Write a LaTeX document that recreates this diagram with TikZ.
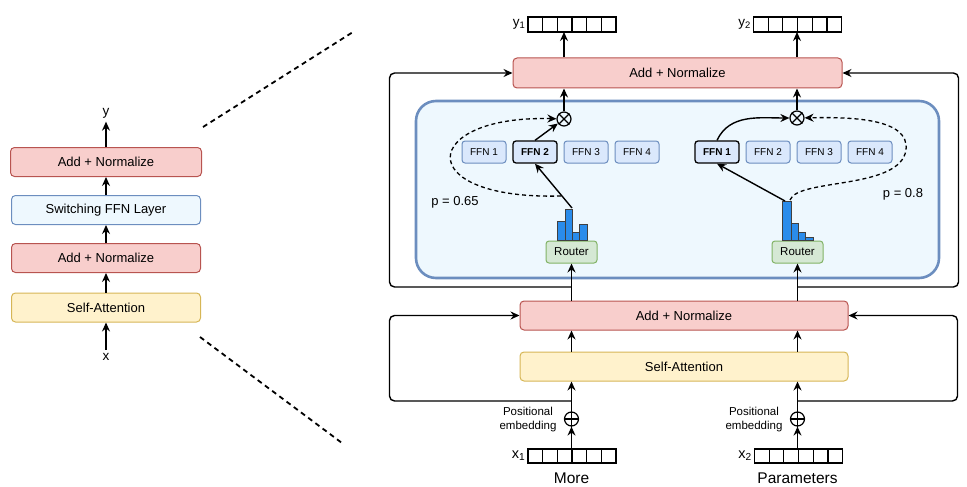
\documentclass[tikz,border=0pt]{standalone}
\usepackage{fontspec}
\setmainfont{Liberation Sans}
\usetikzlibrary{arrows.meta}
\definecolor{anfill}{HTML}{F8CECC}
\definecolor{andraw}{HTML}{B85450}
\definecolor{safill}{HTML}{FFF2CC}
\definecolor{sadraw}{HTML}{D6B656}
\definecolor{ffnfill}{HTML}{DAE8FC}
\definecolor{ffndraw}{HTML}{6C8EBF}
\definecolor{rtfill}{HTML}{D5E8D4}
\definecolor{rtdraw}{HTML}{82B366}
\definecolor{moefill}{HTML}{EEF8FE}
\definecolor{barfill}{HTML}{2A8CEB}
\tikzset{
  box/.style={draw, rounded corners=4pt, line width=1pt, inner sep=0pt,
    minimum height=29, font=\fontsize{13}{15}\selectfont},
  anbox/.style={box, fill=anfill, draw=andraw},
  sabox/.style={box, fill=safill, draw=sadraw},
  swbox/.style={box, fill=moefill, draw=ffndraw},
  ffn/.style={draw=ffndraw, fill=ffnfill, rounded corners=3pt, line width=1pt,
    minimum width=44, minimum height=22, inner sep=0pt, font=\fontsize{10}{12}\selectfont},
  ffnsel/.style={ffn, draw=black, line width=1.3pt, font=\fontsize{10}{12}\selectfont\bfseries},
  rtbox/.style={draw=rtdraw, fill=rtfill, rounded corners=3pt, line width=1pt,
    minimum width=51, minimum height=22, inner sep=0pt, font=\fontsize{11.5}{13}\selectfont},
  moe/.style={draw=ffndraw, fill=moefill, line width=2.6pt, rounded corners=20pt,
    minimum width=523, minimum height=177},
  vec/.style={draw, fill=white, line width=1.6pt, minimum width=88, minimum height=15,
    inner sep=0pt, outer sep=0pt},
  otimes/.style={circle, draw, line width=1.2pt, minimum size=14, inner sep=0pt},
  lbl/.style={inner sep=3pt, font=\fontsize{13.5}{15}\selectfont},
  plbl/.style={inner sep=1pt, font=\fontsize{13}{15}\selectfont},
  small/.style={inner sep=1pt, align=center, font=\fontsize{11.5}{14}\selectfont},
  big/.style={inner sep=1pt, font=\fontsize{15.5}{18}\selectfont},
  bar/.style={fill=barfill, draw=black!75, line width=0.9pt},
  zoomline/.style={line width=1.8pt, dash pattern=on 5pt off 4pt},
  route/.style={->, line width=1.3pt, dash pattern=on 4pt off 3pt}
}
\begin{document}
\begin{tikzpicture}[x=1pt, y=-1pt, line width=1.4pt,
  >={Stealth[length=9pt, width=8pt, inset=3pt]}]
  \useasboundingbox (0,0) rectangle (967,487);

  \node[anbox, minimum width=191] (AN2) at (106,162) {Add + Normalize};
  \node[swbox, minimum width=189] (SW) at (106,210) {Switching FFN Layer};
  \node[anbox, minimum width=189] (AN1) at (106,258) {Add + Normalize};
  \node[sabox, minimum width=189] (SA) at (106,307.5) {Self-Attention};
  \node[lbl] (Y) at (106,113) {y};
  \node[lbl] (X) at (106,357) {x};
  \draw[->] (X) -- (SA);
  \draw[->] (SA) -- (AN1);
  \draw[->] (AN1) -- (SW);
  \draw[->] (SW) -- (AN2);
  \draw[->] (AN2) -- (Y);

  \coordinate (Z1) at (203,127);
  \coordinate (Z2) at (353,32);
  \coordinate (Z3) at (200,337);
  \coordinate (Z4) at (342,443);
  \draw[zoomline] (Z1) -- (Z2);
  \draw[zoomline] (Z3) -- (Z4);

  \node[moe] (MOE) at (677.5,189.5) {};
  \node[anbox, minimum width=329, minimum height=30] (RAN2) at (677.5,73) {Add + Normalize};
  \node[anbox, minimum width=328] (RAN1) at (684,315.5) {Add + Normalize};
  \node[sabox, minimum width=328] (RSA) at (684,366.5) {Self-Attention};

  \foreach \i/\x/\s in {1/484/ffn, 2/535/ffnsel, 3/586/ffn, 4/637/ffn}
    \node[\s] (L\i) at (\x,152) {FFN \i};
  \foreach \i/\x/\s in {1/717/ffnsel, 2/768/ffn, 3/819/ffn, 4/870/ffn}
    \node[\s] (Q\i) at (\x,152) {FFN \i};

  \node[rtbox] (R1) at (571.5,252) {Router};
  \node[rtbox] (R2) at (797.5,252) {Router};
  \foreach \a/\b/\t in {557/565/221, 565/572/209, 572/579/232, 579/587/224}
    \draw[bar] (\a,240) rectangle (\b,\t);
  \foreach \a/\b/\t in {782/791/201, 791/798/223, 798/805/232, 805/813/237}
    \draw[bar] (\a,240) rectangle (\b,\t);

  \node[otimes] (OT1) at (564,119) {};
  \node[otimes] (OT2) at (797,118) {};
  \foreach \n in {OT1, OT2}
    \draw[line width=1.2pt] (\n.north west) -- (\n.south east) (\n.north east) -- (\n.south west);

  \node[plbl] (P1) at (455,202) {p = 0.65};
  \node[plbl] (P2) at (903,194) {p = 0.8};

  \coordinate (H1) at (572,208);
  \coordinate (H2) at (785,201);
  \coordinate (D1) at (561,196);
  \coordinate (D2) at (790,200);
  \draw[->] (H1) -- (L2.south);
  \draw[->] (L2.north) -- (OT1);
  \draw[->] (H2) -- (Q1.south);
  \draw[->] (Q1.north) to[out=65, in=180] (OT2);
  \draw[route] (D1) .. controls (410,200) and (420,115) .. (OT1);
  \draw[route] (D2) .. controls (798,178) and (900,190) .. (906,150)
    .. controls (910,118) and (850,117) .. (OT2);

  \node[vec] (Y1) at (572,24.5) {};
  \node[vec] (Y2) at (797.5,24.5) {};
  \node[vec, minimum height=14] (X1) at (572,456) {};
  \node[vec, minimum height=14] (X2) at (798.5,456) {};
  \foreach \v in {Y1, Y2, X1, X2}
    \foreach \k in {1,...,5}
      \draw[line width=1.3pt] ([xshift=\k*14.67pt]\v.north west) -- ([xshift=\k*14.67pt]\v.south west);
  \node[lbl, inner sep=2pt, left] (Y1L) at (Y1.west) {y\textsubscript{1}};
  \node[lbl, inner sep=2pt, left] (Y2L) at (Y2.west) {y\textsubscript{2}};
  \node[lbl, inner sep=2pt, left, font=\fontsize{14.5}{16}\selectfont] (X1L) at (X1.west) {x\textsubscript{1}};
  \node[lbl, inner sep=2pt, left, font=\fontsize{14.5}{16}\selectfont] (X2L) at (X2.west) {x\textsubscript{2}};
  \node[big] (W1) at (571.5,478) {More};
  \node[big] (W2) at (797.5,478) {Parameters};

  \node[otimes] (PL1) at (571.5,419) {};
  \node[otimes] (PL2) at (797.5,419) {};
  \foreach \n in {PL1, PL2}
    \draw[line width=1.2pt] (\n.north) -- (\n.south) (\n.west) -- (\n.east);
  \node[small] (PE1) at (528,420) {Positional\\embedding};
  \node[small] (PE2) at (754,420) {Positional\\embedding};

  \draw[->] (OT1) -- (OT1 |- RAN2.south);
  \draw[->] (OT2) -- (OT2 |- RAN2.south);
  \draw[->] (OT1 |- RAN2.north) -- (OT1 |- Y1.south);
  \draw[->] (OT2 |- RAN2.north) -- (OT2 |- Y2.south);

  \draw[->] (PL1 |- X1.north) -- (PL1.south);
  \draw[->] (PL2 |- X2.north) -- (PL2.south);
  \draw[->] (PL1) -- (PL1 |- RSA.south);
  \draw[->] (PL2) -- (PL2 |- RSA.south);
  \draw[->] (PL1 |- RSA.north) -- (PL1 |- RAN1.south);
  \draw[->] (PL2 |- RSA.north) -- (PL2 |- RAN1.south);
  \draw[->] (R1 |- RAN1.north) -- (R1.south);
  \draw[->] (R2 |- RAN1.north) -- (R2.south);

  \coordinate (B1) at (571.5,287);
  \coordinate (B2) at (797.5,287);
  \coordinate (B3) at (571.5,401);
  \coordinate (B4) at (797.5,401);
  \draw[->, rounded corners=5pt] (B1) -| ([xshift=-123pt]RAN2.west) -- (RAN2.west);
  \draw[->, rounded corners=5pt] (B2) -| ([xshift=116pt]RAN2.east) -- (RAN2.east);
  \draw[->, rounded corners=5pt] (B3) -| ([xshift=-130pt]RAN1.west) -- (RAN1.west);
  \draw[->, rounded corners=5pt] (B4) -| ([xshift=109pt]RAN1.east) -- (RAN1.east);
\end{tikzpicture}
\end{document}
